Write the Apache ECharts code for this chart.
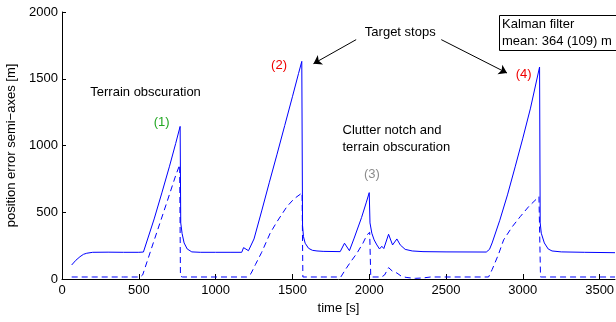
<!DOCTYPE html>
<html>
<head>
<meta charset="UTF-8">
<title></title>
<script src="https://cdn.jsdelivr.net/npm/echarts@6/dist/echarts.min.js"></script>
<style type="text/css">
	html, body { margin: 0; padding: 0; background: #fff; }
	#main { width: 616px; height: 322px; }
</style>
</head>
<body>
<div id="main"></div>
<script type="text/javascript">
// semi-axis error, solid line
var solidTime = [63, 90, 117, 140, 161, 200, 300, 400, 500, 530,
	600, 650, 700, 740, 769, 773, 782, 795, 815, 845,
	900, 1000, 1100, 1170, 1182, 1195, 1214, 1225, 1250, 1300,
	1350, 1400, 1450, 1500, 1540, 1561, 1566, 1572, 1583, 1605,
	1630, 1660, 1700, 1811, 1839, 1871, 1900, 1950, 1980, 2000,
	2005, 2017, 2032, 2050, 2067, 2082, 2095, 2126, 2152, 2180,
	2202, 2234, 2280, 2350, 2500, 2762, 2775, 2783, 2800, 2850,
	2900, 2950, 3000, 3050, 3109, 3113, 3120, 3140, 3165, 3190,
	3250, 3400, 3600];
var solidErr = [105, 140, 167, 185, 193, 200, 201, 200, 200, 202,
	450, 645, 845, 1015, 1143, 420, 340, 270, 225, 203,
	200, 200, 200, 200, 235, 225, 212, 215, 300, 510,
	725, 935, 1150, 1365, 1540, 1630, 400, 317, 268, 230,
	215, 210, 207, 205, 268, 212, 300, 460, 570, 647,
	420, 343, 293, 255, 225, 245, 228, 335, 255, 300,
	255, 222, 210, 205, 203, 202, 212, 222, 270, 440,
	630, 840, 1055, 1280, 1588, 420, 343, 270, 225, 210,
	203, 200, 197];

// dashed line
var dashTime = [63, 200, 400, 508, 525, 600, 680, 740, 766, 771, 785,
	1000, 1203, 1230, 1260, 1300, 1355, 1400, 1464, 1510, 1563, 1568,
	1700, 1815, 1843, 1880, 1920, 1960, 1985, 2003, 2010,
	2080, 2100, 2126, 2150, 2180, 2210, 2240, 2270, 2300, 2350, 2400,
	2600, 2777, 2800, 2840, 2875, 2930, 2983, 3040, 3105, 3115,
	3300, 3600];
var dashErr = [15, 15, 15, 15, 30, 290, 565, 775, 855, 20, 15,
	15, 15, 40, 110, 200, 343, 430, 542, 600, 645, 15,
	15, 15, 67, 130, 193, 270, 330, 350, 15,
	15, 30, 85, 60, 45, 20, 12, 8, 5, 8, 15,
	15, 15, 70, 180, 293, 390, 467, 545, 617, 15,
	15, 15];

var notes = [
	{ text: 'Terrain obscuration', t: 544, v: 1395, color: '#000', align: 'center' },
	{ text: '(1)', t: 649, v: 1173, color: '#22a722', align: 'center' },
	{ text: '(2)', t: 1413, v: 1598, color: '#f00000', align: 'center' },
	{ text: 'Target stops', t: 2202, v: 1845, color: '#000', align: 'center' },
	{ text: '(4)', t: 3005, v: 1530, color: '#f00000', align: 'center' },
	{ text: 'Clutter notch and', t: 1826, v: 1112, color: '#000', align: 'left' },
	{ text: 'terrain obscuration', t: 1826, v: 988, color: '#000', align: 'left' },
	{ text: '(3)', t: 2017, v: 780, color: '#8c8c8c', align: 'center' }
];
var arrows = [
	[[1915, 1793], [1637, 1613]],
	[[2469, 1793], [2897, 1543]]
];

function pairs(a, b) {
	var out = [];
	for (var i = 0; i < a.length; i++) out.push([a[i], b[i]]);
	return out;
}
function plain(v) {
	return String(v);
}

var font = 'Liberation Sans';
var chart = echarts.init(document.getElementById('main'));

var option = {
	animation: false,
	backgroundColor: '#fff',
	title: {
		text: 'Kalman filter\nmean: 364 (109) m',
		left: 499,
		top: 15,
		padding: [1, 30, 1, 3],
		borderColor: '#000',
		borderWidth: 1,
		textStyle: { fontFamily: font, fontSize: 13, fontWeight: 'normal', color: '#000', lineHeight: 17 }
	},
	grid: { left: 62, right: 1, top: 12, bottom: 43, outerBoundsMode: 'none' },
	xAxis: {
		type: 'value',
		min: 0,
		max: 3600,
		interval: 500,
		name: 'time [s]',
		nameLocation: 'middle',
		nameGap: 23,
		nameTextStyle: { fontFamily: font, fontSize: 13, color: '#000' },
		axisLine: { lineStyle: { color: '#000', width: 1 } },
		axisTick: { inside: true, length: 5, lineStyle: { color: '#000' } },
		axisLabel: { fontFamily: font, fontSize: 13, color: '#000', margin: 5, showMaxLabel: false, formatter: plain },
		splitLine: { show: false }
	},
	yAxis: {
		type: 'value',
		min: 0,
		max: 2000,
		interval: 500,
		name: 'position error semi\u2212axes [m]',
		nameLocation: 'middle',
		nameGap: 41,
		nameTextStyle: { fontFamily: font, fontSize: 13, color: '#000' },
		axisLine: { show: true, lineStyle: { color: '#000', width: 1 } },
		axisTick: { show: true, inside: true, length: 4, lineStyle: { color: '#000' } },
		axisLabel: { fontFamily: font, fontSize: 13, color: '#000', margin: 4, formatter: plain },
		splitLine: { show: false }
	},
	series: [{
		type: 'line',
		data: pairs(solidTime, solidErr),
		showSymbol: false,
		symbol: 'none',
		lineStyle: { color: '#0000ff', width: 1 },
		markLine: {
			silent: true,
			symbol: ['none', 'arrow'],
			symbolSize: 8,
			label: { show: false },
			lineStyle: { color: '#000', width: 1, type: 'solid' },
			data: arrows.map(function (a) {
				return [{ coord: a[0] }, { coord: a[1] }];
			})
		}
	}, {
		type: 'line',
		data: pairs(dashTime, dashErr),
		showSymbol: false,
		symbol: 'none',
		lineStyle: { color: '#0000ff', width: 1, type: [6, 4] }
	}]
};
chart.setOption(option);

var g = notes.map(function (n) {
	var p = chart.convertToPixel({ xAxisIndex: 0, yAxisIndex: 0 }, [n.t, n.v]);
	return {
		type: 'text',
		x: p[0],
		y: p[1],
		style: {
			text: n.text,
			fill: n.color,
			font: '13px "' + font + '"',
			align: n.align,
			verticalAlign: 'middle'
		}
	};
});
chart.setOption({ graphic: g });
</script>
</body>
</html>
